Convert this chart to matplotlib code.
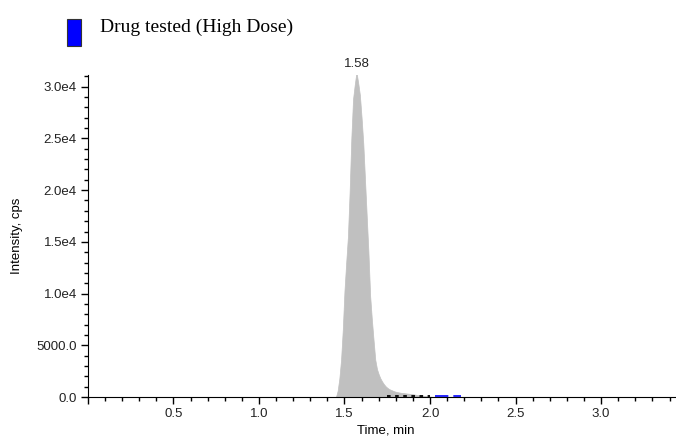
import matplotlib
matplotlib.use("Agg")
import matplotlib.pyplot as plt
from matplotlib.ticker import MultipleLocator, FuncFormatter
from matplotlib.patches import Rectangle

# chromatogram (Time, min -> Intensity, cps)
time_min = [1.44, 1.45, 1.46, 1.47, 1.48, 1.49, 1.50, 1.51, 1.52, 1.53,
            1.54, 1.55, 1.56, 1.57, 1.58, 1.59, 1.60, 1.61, 1.62, 1.63,
            1.64, 1.65, 1.66, 1.67, 1.68, 1.69, 1.70, 1.71, 1.72, 1.73,
            1.74, 1.75, 1.76, 1.77, 1.78, 1.79, 1.80, 1.81, 1.82, 1.83,
            1.84, 1.85, 1.86, 1.87, 1.88, 1.89, 1.90, 1.91, 1.92, 1.93,
            1.94, 1.95, 1.96, 1.97, 1.98, 1.99, 2.00, 2.01, 2.02]
intensity = [0, 0, 600, 1800, 3600, 6500, 10300, 13000, 15500, 19800,
             25000, 28800, 30200, 31400, 30400, 29200, 27000, 24500, 21000, 17500,
             14000, 9800, 7500, 5500, 3600, 2700, 2200, 1800, 1500, 1250,
             1050, 900, 780, 700, 630, 560, 510, 470, 440, 410,
             390, 370, 350, 330, 310, 290, 270, 240, 210, 180,
             160, 140, 120, 100, 80, 60, 40, 20, 0]

# integration baselines
black_base_t = [1.75, 2.00]
black_base_y = [100, 100]
blue_base_t = [2.03, 2.18]
blue_base_y = [60, 60]

peak_label = "1.58"
peak_time = 1.571
peak_height = 31400

legend_label = "Drug tested (High Dose)"

FONT = "Liberation Sans"
FS = 9.5

fig = plt.figure(figsize=(6.76, 4.36), dpi=100)
ax = fig.add_axes([0.130, 0.0894, 0.868, 0.739])

ax.fill_between(time_min, intensity, color="#c0c0c0", lw=0.5, edgecolor="#c0c0c0")
ax.plot(black_base_t, black_base_y, color="black", lw=1.3, ls=(0, (2, 2.5)))
ax.plot(blue_base_t, blue_base_y, color="#0000ff", lw=1.2, ls=(0, (8, 3)))

ax.text(peak_time, peak_height + 250, peak_label, ha="center", va="bottom",
        fontsize=FS, family=FONT, color="#222222")

ax.set_xlim(0, 3.43)
ax.set_ylim(0, 31150)

for s in ("top", "right"):
    ax.spines[s].set_visible(False)

ax.xaxis.set_major_locator(MultipleLocator(0.5))
ax.xaxis.set_minor_locator(MultipleLocator(0.1))
ax.yaxis.set_major_locator(MultipleLocator(5000))
ax.yaxis.set_minor_locator(MultipleLocator(1000))


def xfmt(v, pos):
    return "" if abs(v) < 1e-9 else f"{v:.1f}"


def yfmt(v, pos):
    if v < 1e4:
        return f"{v:.1f}"
    return f"{v / 1e4:.1f}e4"


ax.xaxis.set_major_formatter(FuncFormatter(xfmt))
ax.yaxis.set_major_formatter(FuncFormatter(yfmt))
ax.tick_params(which="major", length=5, width=1, direction="out",
               labelsize=FS, labelcolor="#222222", pad=3)
ax.tick_params(which="minor", length=3, width=1, direction="out")
for lab in ax.get_xticklabels() + ax.get_yticklabels():
    lab.set_family(FONT)

ax.set_xlabel("Time, min", fontsize=FS, family=FONT, va="center")
ax.set_ylabel("Intensity, cps", fontsize=FS, family=FONT, va="center")
ax.xaxis.set_label_coords(0.508, -0.1025)
ax.yaxis.set_label_coords(-0.121, 0.5)

# legend
fig.patches.append(Rectangle((67 / 676, 1 - 46 / 436), 14 / 676, 27 / 436,
                             transform=fig.transFigure, facecolor="#0000ff",
                             edgecolor="#333333", lw=0.8))
fig.text(100 / 676, 1 - 27 / 436, legend_label, fontsize=14,
         family="Liberation Serif", va="center", ha="left")

fig.savefig("out.png", dpi=100)
